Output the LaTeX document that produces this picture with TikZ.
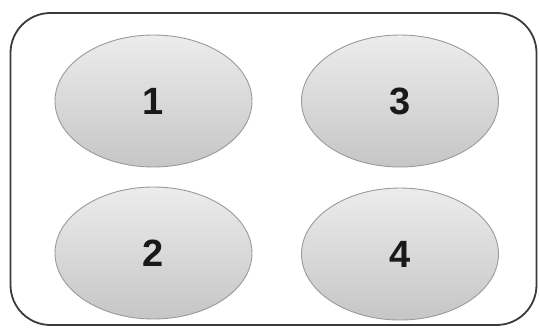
\documentclass[tikz,border=0pt]{standalone}
\usepackage{fontspec}
\setmainfont{Liberation Sans}
\usetikzlibrary{shapes.geometric}
\definecolor{frameC}{HTML}{3A3A3A}
\definecolor{ellBorder}{HTML}{9A9A9A}
\definecolor{ellTop}{HTML}{ECECEC}
\definecolor{ellBot}{HTML}{C6C6C6}
\tikzset{
  oval/.style={ellipse, draw=ellBorder, line width=0.9pt, top color=ellTop, bottom color=ellBot,
    minimum width=197pt, minimum height=132pt, inner sep=0pt,
    font=\fontsize{38}{40}\selectfont\bfseries, text=black!90},
  frame/.style={draw=frameC, line width=1.8pt, rounded corners=40pt}
}
\begin{document}
\begin{tikzpicture}[x=1pt,y=-1pt]
\useasboundingbox (0,0) rectangle (539,332);
\fill[white] (0,0) rectangle (539,332);
\node[frame, minimum width=526pt, minimum height=312pt, inner sep=0pt] (box) at (273.5,169) {};
\node[oval] (n1) at (153.5,101) {1};
\node[oval] (n3) at (400,101) {3};
\node[oval] (n2) at (153.5,253) {2};
\node[oval] (n4) at (400,254) {4};
\end{tikzpicture}
\end{document}
